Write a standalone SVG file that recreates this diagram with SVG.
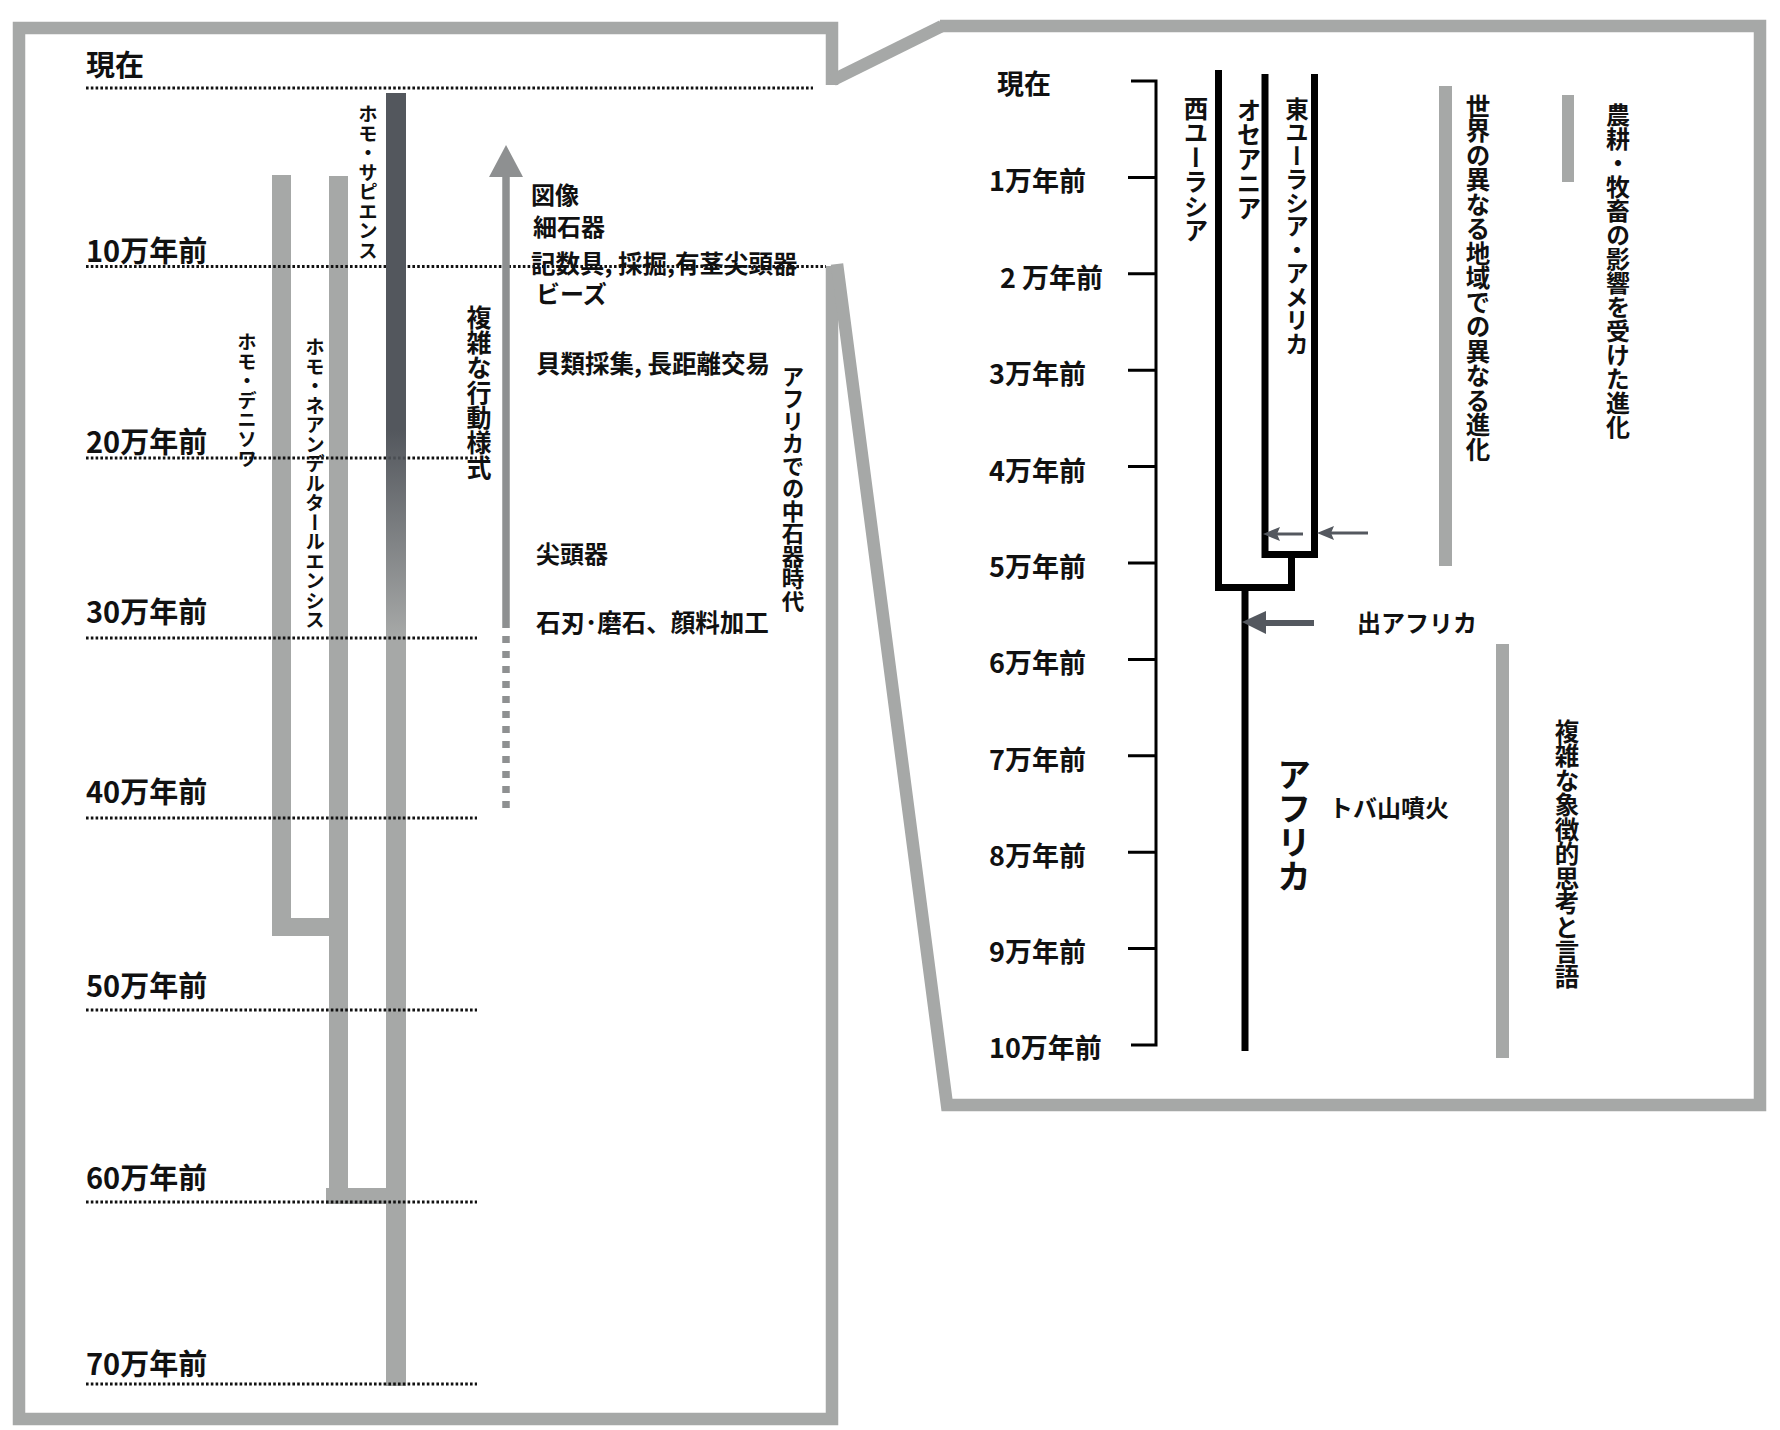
<svg xmlns="http://www.w3.org/2000/svg" width="1780" height="1430" viewBox="0 0 1780 1430">
<style>
text { font-family: "Noto Sans CJK JP", "Noto Sans", sans-serif; font-weight: 700; fill: #111; }
.lbl { font-size: 29px; }
.rl { font-size: 27px; }
.t { font-size: 24px; }
.v { writing-mode: vertical-rl; }
.frame { fill: none; stroke: #a6a8a7; stroke-width: 12.5; stroke-linejoin: miter; stroke-linecap: butt; }
.dot { fill: none; stroke: #111; stroke-width: 2.8; stroke-dasharray: 2.6 2.2; }
.bar { fill: #a6a8a7; }
.tree { fill: none; stroke: #000; stroke-width: 7; stroke-linejoin: miter; }
.axis { fill: none; stroke: #000; stroke-width: 3; }
.arr { fill: #54585f; }
</style>
<defs>
<linearGradient id="sap" x1="0" y1="93" x2="0" y2="636" gradientUnits="userSpaceOnUse">
<stop offset="0" stop-color="#53575d" stop-opacity="1"/>
<stop offset="0.62" stop-color="#53575d" stop-opacity="1"/>
<stop offset="1" stop-color="#53575d" stop-opacity="0"/>
</linearGradient>
</defs>

<!-- frames -->
<g id="frames">
<path class="frame" d="M 832 85 L 832 28 L 19 28 L 19 1419 L 832 1419 L 832 266"/>
<path class="frame" d="M 833 80 L 942 26"/>
<path class="frame" d="M 837 264 L 947 1105 L 1760 1105 L 1760 26 L 940 26"/>
</g>

<!-- lineages -->
<g id="denisova">
<rect class="bar" x="272" y="175" width="19" height="761"/>
<rect class="bar" x="272" y="918" width="76" height="18"/>
</g>
<g id="neanderthal">
<rect class="bar" x="329" y="176" width="19" height="1028"/>
<rect class="bar" x="326" y="1188" width="80" height="16"/>
</g>
<g id="sapiens">
<rect class="bar" x="386" y="93" width="20" height="1293"/>
</g>

<!-- left panel: time axis -->
<g id="left-axis">
<path class="dot" d="M 86 88 H 813"/>
<path class="dot" d="M 86 266.5 H 826"/>
<path class="dot" d="M 86 458 H 477"/>
<path class="dot" d="M 86 638 H 477"/>
<path class="dot" d="M 86 818 H 477"/>
<path class="dot" d="M 86 1010 H 477"/>
<path class="dot" d="M 86 1202 H 477"/>
<path class="dot" d="M 86 1384 H 477"/>
<text class="lbl" x="86" y="76">現在</text>
<text class="lbl" x="86" y="262">10万年前</text>
<text class="lbl" x="86" y="453">20万年前</text>
<text class="lbl" x="86" y="623">30万年前</text>
<text class="lbl" x="86" y="803">40万年前</text>
<text class="lbl" x="86" y="997">50万年前</text>
<text class="lbl" x="86" y="1189">60万年前</text>
<text class="lbl" x="86" y="1375">70万年前</text>
</g>

<g id="sapiens-top">
<rect x="386" y="93" width="20" height="543" fill="url(#sap)"/>
<text class="v" x="368" y="104" style="font-size:19.5px">ホモ・サピエンス</text>
</g>
<g id="denisova-label"><text class="v" x="247" y="332" style="font-size:19.5px">ホモ・デニソワ</text></g>
<g id="neanderthal-label"><text class="v" x="315" y="337" style="font-size:19.5px">ホモ・ネアンデルタールエンシス</text></g>

<!-- behaviour arrow -->
<g id="behaviour">
<line x1="506" y1="175" x2="506" y2="628" stroke="#8e9091" stroke-width="7.5"/>
<polygon points="506,145 489,177 523,177" fill="#8e9091"/>
<line x1="506" y1="636" x2="506" y2="808" stroke="#8e9091" stroke-width="7.5" stroke-dasharray="7 8"/>
<text class="v" x="479" y="305" style="font-size:25px">複雑な行動様式</text>
</g>

<g id="events">
<text class="t" x="531" y="204">図像</text>
<text class="t" x="533" y="236">細石器</text>
<text class="t" x="531" y="273" style="font-size:24.5px">記数具, 採掘,有茎尖頭器</text>
<text class="t" x="536" y="303">ビーズ</text>
<text class="t" x="536" y="373" style="font-size:24.5px">貝類採集, 長距離交易</text>
<text class="t" x="536" y="563">尖頭器</text>
<text class="t" x="536" y="632" style="font-size:24.5px">石刃･磨石、顔料加工</text>
<text class="v" x="793" y="365" style="font-size:22.5px">アフリカでの中石器時代</text>
</g>

<!-- right panel axis -->
<g id="right-axis">
<path class="axis" d="M 1131 81 H 1156 V 1045 H 1131"/>
<path class="axis" d="M 1128 177.4 H 1156 M 1128 273.8 H 1156 M 1128 370.2 H 1156 M 1128 466.6 H 1156 M 1128 563 H 1156 M 1128 659.4 H 1156 M 1128 755.8 H 1156 M 1128 852.2 H 1156 M 1128 948.6 H 1156"/>
<text class="rl" x="997" y="94">現在</text>
<text class="rl" x="989" y="191">1万年前</text>
<text class="rl" x="1000" y="288">2 万年前</text>
<text class="rl" x="989" y="384">3万年前</text>
<text class="rl" x="989" y="481">4万年前</text>
<text class="rl" x="989" y="577">5万年前</text>
<text class="rl" x="989" y="673">6万年前</text>
<text class="rl" x="989" y="770">7万年前</text>
<text class="rl" x="989" y="866">8万年前</text>
<text class="rl" x="989" y="962">9万年前</text>
<text class="rl" x="989" y="1058">10万年前</text>
</g>

<!-- population tree -->
<g id="tree">
<path class="tree" d="M 1218.5 70 V 587.5 H 1291.5 V 554.5"/>
<path class="tree" d="M 1265 74 V 554.5 H 1314.5 V 74"/>
<path class="tree" d="M 1245 587.5 V 1051"/>
</g>
<g id="west-eurasia"><text class="v" x="1196" y="96" style="font-size:24.5px">西ユーラシア</text></g>
<g id="oceania"><text class="v" x="1249" y="98" style="font-size:24.5px">オセアニア</text></g>
<g id="east-eurasia"><text class="v" x="1297" y="97" style="font-size:23.5px">東ユーラシア・アメリカ</text></g>
<g id="africa"><text class="v" x="1294" y="757" style="font-size:34px">アフリカ</text></g>

<!-- arrows -->
<g id="connectors">
<line x1="1275" y1="534" x2="1303" y2="534" stroke="#54585f" stroke-width="3"/>
<polygon class="arr" points="1263,534 1280,527 1277,534 1280,541"/>
<line x1="1329" y1="533" x2="1368" y2="533" stroke="#54585f" stroke-width="3"/>
<polygon class="arr" points="1317,533 1334,526 1331,533 1334,540"/>
<line x1="1262" y1="623" x2="1314" y2="623" stroke="#54585f" stroke-width="6"/>
<polygon class="arr" points="1242,622 1266,611 1266,634"/>
</g>
<g id="out-of-africa"><text class="t" x="1357" y="632">出アフリカ</text></g>
<g id="toba"><text class="t" x="1329" y="817">トバ山噴火</text></g>

<!-- gray range bars -->
<g id="regional">
<rect class="bar" x="1439" y="86" width="13" height="480"/>
<text class="v" x="1478" y="94" style="font-size:24.5px">世界の異なる地域での異なる進化</text>
</g>
<g id="agriculture">
<rect class="bar" x="1562" y="95" width="12" height="87"/>
<text class="v" x="1618" y="103" style="font-size:24px">農耕・牧畜の影響を受けた進化</text>
</g>
<g id="symbolic">
<rect class="bar" x="1496" y="644" width="13" height="414"/>
<text class="v" x="1567" y="719" style="font-size:24.5px">複雑な象徴的思考と言語</text>
</g>
</svg>
